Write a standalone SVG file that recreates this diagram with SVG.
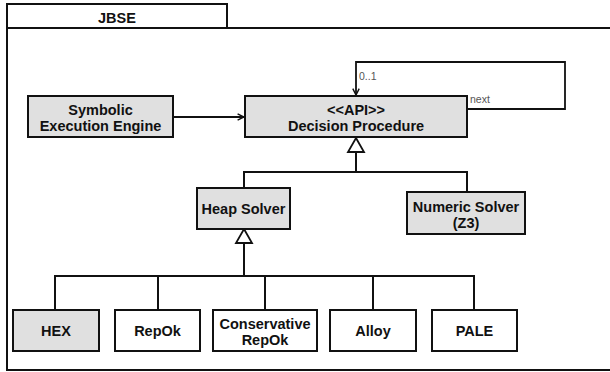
<svg xmlns="http://www.w3.org/2000/svg" width="610" height="372" viewBox="0 0 610 372">
<defs>
<style>
.frame{fill:none;stroke:#111;stroke-width:2}
.box{stroke:#111;stroke-width:2}
.g{fill:#e0e0e0}
.w{fill:#fff}
.t{font-family:"Liberation Sans",Arial,sans-serif;font-weight:bold;font-size:14.5px;fill:#111;text-anchor:middle}
.lbl{font-family:"Liberation Sans",Arial,sans-serif;font-size:10.5px;fill:#555}
.c{fill:none;stroke:#111;stroke-width:2}
.thin{fill:none;stroke:#111;stroke-width:1.8}
</style>
<marker id="open" viewBox="0 0 10 10" refX="9" refY="5" markerWidth="8" markerHeight="8" markerUnits="userSpaceOnUse" orient="auto">
<path d="M1,1 L9,5 L1,9" fill="none" stroke="#111" stroke-width="1.8"/>
</marker>
</defs>
<rect width="610" height="372" fill="#fff"/>
<g id="frame">
<path class="frame" d="M611,28 L7,28 L7,370 L611,370"/>
<rect class="frame" x="7" y="4" width="220" height="24" fill="#fff"/>
<text class="t" x="117" y="23">JBSE</text>
</g>
<g id="connectors">
<path class="thin" d="M173,117 L244,117" marker-end="url(#open)"/>
<path class="thin" d="M467,109 L565,109 L565,62 L356,62 L356,95" marker-end="url(#open)"/>
<text class="lbl" x="359" y="80">0..1</text>
<text class="lbl" x="470" y="103">next</text>
<path class="c" d="M244,188 L244,172 L467,172 L467,192 M356,172 L356,152"/>
<path d="M356,138 L364,152 L348,152 Z" fill="#fff" stroke="#111" stroke-width="1.8"/>
<path class="c" d="M55,310 L55,276 L474,276 L474,310 M158,276 L158,310 M265,276 L265,310 M373,276 L373,310 M244,276 L244,243"/>
<path d="M244,229 L252,243 L236,243 Z" fill="#fff" stroke="#111" stroke-width="1.8"/>
</g>
<g id="symbolic-execution-engine">
<rect class="box g" x="28" y="96" width="145" height="41"/>
<text class="t" x="100.5" y="115">Symbolic</text>
<text class="t" x="100.5" y="131">Execution Engine</text>
</g>
<g id="decision-procedure">
<rect class="box g" x="245" y="96" width="222" height="41"/>
<text class="t" x="356" y="115">&lt;&lt;API&gt;&gt;</text>
<text class="t" x="356" y="131">Decision Procedure</text>
</g>
<g id="heap-solver">
<rect class="box g" x="197" y="188" width="93" height="41"/>
<text class="t" x="243.5" y="214">Heap Solver</text>
</g>
<g id="numeric-solver">
<rect class="box g" x="407" y="192" width="118" height="42"/>
<text class="t" x="466" y="212">Numeric Solver</text>
<text class="t" x="466" y="228">(Z3)</text>
</g>
<g id="hex">
<rect class="box g" x="13" y="310" width="86" height="41"/>
<text class="t" x="56" y="336">HEX</text>
</g>
<g id="repok">
<rect class="box w" x="115" y="310" width="85" height="41"/>
<text class="t" x="157.5" y="336">RepOk</text>
</g>
<g id="conservative-repok">
<rect class="box w" x="213" y="310" width="104" height="41"/>
<text class="t" x="265" y="329">Conservative</text>
<text class="t" x="265" y="345">RepOk</text>
</g>
<g id="alloy">
<rect class="box w" x="330" y="310" width="86" height="41"/>
<text class="t" x="373" y="336">Alloy</text>
</g>
<g id="pale">
<rect class="box w" x="432" y="310" width="85" height="41"/>
<text class="t" x="474.5" y="336">PALE</text>
</g>
</svg>
